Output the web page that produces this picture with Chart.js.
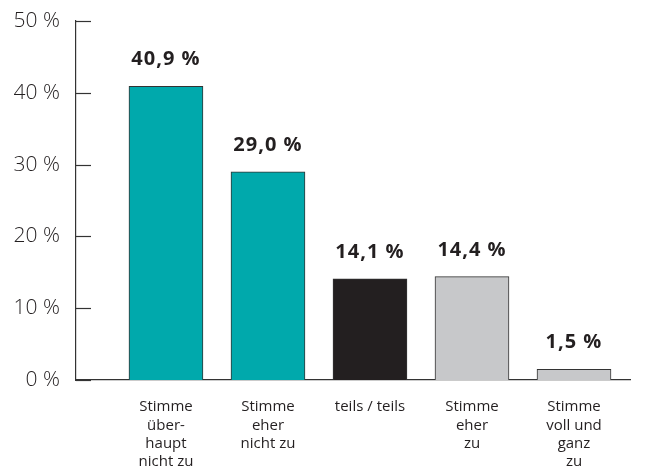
<!DOCTYPE html>
<html>
<head>
<meta charset="utf-8">
<script src="https://cdn.jsdelivr.net/npm/chart.js@4"></script>
<style>
  html, body { margin: 0; padding: 0; background: #fff; }
  #wrap { width: 651px; height: 469px; }
</style>
</head>
<body>
<div id="wrap"><canvas id="answersChart"></canvas></div>
<script>
// Antwortkategorien und Anteile
var categories = [
    ['Stimme', 'über-', 'haupt', 'nicht zu'],
    ['Stimme', 'eher', 'nicht zu'],
    ['teils / teils'],
    ['Stimme', 'eher', 'zu'],
    ['Stimme', 'voll und', 'ganz', 'zu']
];
var shares = [40.9, 29.0, 14.1, 14.4, 1.5];
var barColors = ['#00a9ac', '#00a9ac', '#231f20', '#c7c8ca', '#c7c8ca'];
var yTicks = [0, 10, 20, 30, 40, 50];

var fontFamily = '"Open Sans", "Noto Sans", sans-serif';

function pct(v) {
    return v.toFixed(1).replace('.', ',') + ' %';
}

// y-axis tick marks pointing into the chart
var innerTicks = {
    id: 'innerTicks',
    afterDraw: function(chart) {
        var y = chart.scales.y;
        var c = chart.ctx;
        c.save();
        c.strokeStyle = '#333';
        c.lineWidth = 1.2;
        yTicks.forEach(function(t) {
            var py = Math.round(y.getPixelForValue(t)) + 0.5;
            c.beginPath();
            c.moveTo(y.right, py);
            c.lineTo(y.right + 15, py);
            c.stroke();
        });
        c.restore();
    }
};

// value labels above bars
var valueLabels = {
    id: 'valueLabels',
    afterDatasetsDraw: function(chart) {
        var c = chart.ctx;
        var meta = chart.getDatasetMeta(0);
        c.save();
        c.font = 'bold 20px ' + fontFamily;
        c.letterSpacing = '1px';
        c.fillStyle = '#231f20';
        c.textAlign = 'center';
        c.textBaseline = 'alphabetic';
        meta.data.forEach(function(bar, i) {
            c.fillText(pct(shares[i]), bar.x, bar.y - 21);
        });
        c.restore();
    }
};

var ctx = document.getElementById('answersChart').getContext('2d');
var answersChart = new Chart(ctx, {
    type: 'bar',
    data: {
        datasets: [{
            data: shares.map(function(v, i) { return { x: i, y: v }; }),
            backgroundColor: barColors,
            borderColor: '#333',
            borderWidth: 1,
            barThickness: 74
        }]
    },
    options: {
        responsive: true,
        maintainAspectRatio: false,
        animation: false,
        layout: { padding: { top: 21, right: 21, left: 0, bottom: 0 } },
        plugins: {
            legend: { display: false },
            tooltip: { enabled: false }
        },
        scales: {
            x: {
                type: 'linear',
                offset: false,
                min: -0.882,
                max: 4.549,
                grid: { display: false, drawTicks: false },
                border: { display: true, color: '#333', width: 1.2 },
                afterFit: function(s) { s.height = 89; s.paddingLeft = 0; s.paddingRight = 0; },
                afterBuildTicks: function(s) {
                    s.ticks = categories.map(function(c, i) { return { value: i }; });
                },
                ticks: {
                    padding: 18,
                    maxRotation: 0,
                    autoSkip: false,
                    color: '#231f20',
                    font: { family: fontFamily, size: 15, lineHeight: 1.22 },
                    callback: function(v) { return categories[v] || ''; }
                }
            },
            y: {
                min: 0,
                max: 50,
                grid: { display: false, drawTicks: false },
                border: { display: true, color: '#333', width: 1.2 },
                afterFit: function(s) { s.width = 76; s.paddingTop = 0; s.paddingBottom = 0; },
                afterBuildTicks: function(s) {
                    s.ticks = yTicks.map(function(t) { return { value: t }; });
                },
                ticks: {
                    padding: 16,
                    color: '#231f20',
                    font: { family: fontFamily, size: 21, weight: 300 },
                    callback: function(v) { return v + ' %'; }
                }
            }
        }
    },
    plugins: [innerTicks, valueLabels]
});
</script>
</body>
</html>
